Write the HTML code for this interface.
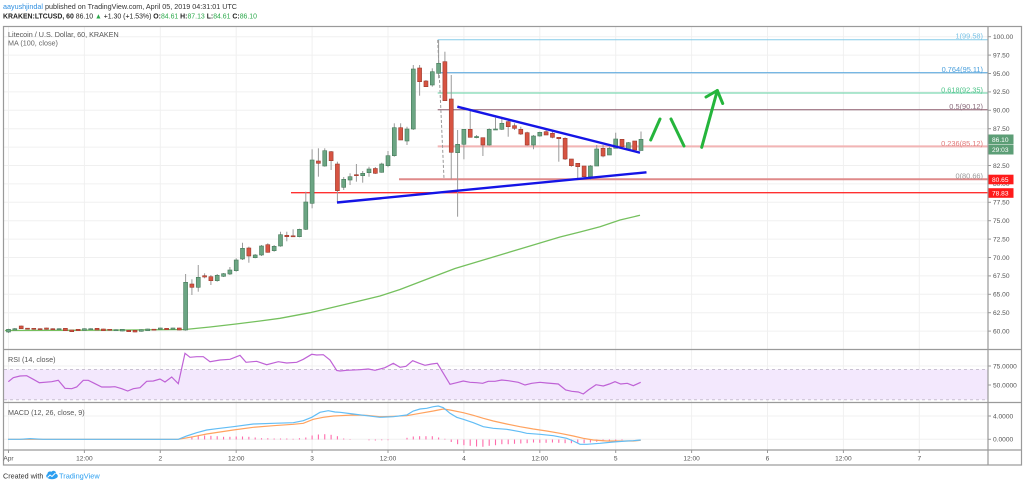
<!DOCTYPE html>
<html><head><meta charset="utf-8"><style>
html,body{margin:0;padding:0;background:#fff;width:1024px;height:486px;overflow:hidden}
svg{display:block;font-family:"Liberation Sans",Arial,sans-serif}
.g line{stroke:#f0f0f0;stroke-width:1}
.ax{fill:#555;font-size:6.6px}
.u rect{fill:#6ba583;stroke:#467a5a;stroke-width:.6}
.d rect{fill:#d75442;stroke:#9c3a2d;stroke-width:.6}
.w line{stroke:#9a9a9a;stroke-width:1}
</style></head><body>
<svg width="1024" height="486" viewBox="0 0 1024 486" xmlns="http://www.w3.org/2000/svg">
<!-- header -->
<text x="3" y="8.8" font-size="7.3" fill="#333" textLength="234" lengthAdjust="spacingAndGlyphs"><tspan fill="#2f8fe0">aayushjindal</tspan> published on TradingView.com, April 05, 2019 04:31:01 UTC</text>
<text x="3" y="18.6" font-size="7.3" fill="#222" textLength="254" lengthAdjust="spacingAndGlyphs"><tspan font-weight="bold">KRAKEN:LTCUSD, 60</tspan> 86.10 <tspan fill="#2aa84a">▲</tspan> +1.30 (+1.53%) <tspan font-weight="bold">O:</tspan><tspan fill="#2aa84a">84.61</tspan> <tspan font-weight="bold">H:</tspan><tspan fill="#2aa84a">87.13</tspan> <tspan font-weight="bold">L:</tspan><tspan fill="#2aa84a">84.61</tspan> <tspan font-weight="bold">C:</tspan><tspan fill="#2aa84a">86.10</tspan></text>

<!-- grid verticals -->
<g class="g">
<line x1="8.5" y1="27" x2="8.5" y2="450"/><line x1="84.4" y1="27" x2="84.4" y2="450"/><line x1="160.3" y1="27" x2="160.3" y2="450"/><line x1="236.2" y1="27" x2="236.2" y2="450"/><line x1="312.1" y1="27" x2="312.1" y2="450"/><line x1="388" y1="27" x2="388" y2="450"/><line x1="463.9" y1="27" x2="463.9" y2="450"/><line x1="539.8" y1="27" x2="539.8" y2="450"/><line x1="615.7" y1="27" x2="615.7" y2="450"/><line x1="691.6" y1="27" x2="691.6" y2="450"/><line x1="767.5" y1="27" x2="767.5" y2="450"/><line x1="843.4" y1="27" x2="843.4" y2="450"/><line x1="919.3" y1="27" x2="919.3" y2="450"/>
<line x1="4" y1="36.7" x2="988" y2="36.7"/><line x1="4" y1="55.1" x2="988" y2="55.1"/><line x1="4" y1="73.5" x2="988" y2="73.5"/><line x1="4" y1="91.9" x2="988" y2="91.9"/><line x1="4" y1="110.3" x2="988" y2="110.3"/><line x1="4" y1="128.7" x2="988" y2="128.7"/><line x1="4" y1="147.1" x2="988" y2="147.1"/><line x1="4" y1="165.5" x2="988" y2="165.5"/><line x1="4" y1="183.9" x2="988" y2="183.9"/><line x1="4" y1="202.3" x2="988" y2="202.3"/><line x1="4" y1="220.7" x2="988" y2="220.7"/><line x1="4" y1="239.1" x2="988" y2="239.1"/><line x1="4" y1="257.5" x2="988" y2="257.5"/><line x1="4" y1="275.9" x2="988" y2="275.9"/><line x1="4" y1="294.3" x2="988" y2="294.3"/><line x1="4" y1="312.7" x2="988" y2="312.7"/><line x1="4" y1="331.1" x2="988" y2="331.1"/>
<line x1="4" y1="366" x2="988" y2="366"/><line x1="4" y1="385" x2="988" y2="385"/>
<line x1="4" y1="416" x2="988" y2="416"/><line x1="4" y1="439.3" x2="988" y2="439.3"/>
</g>

<!-- titles -->
<text x="8" y="36.8" font-size="7.2" fill="#555">Litecoin / U.S. Dollar, 60, KRAKEN</text>
<text x="8" y="45.3" font-size="7.2" fill="#666">MA (100, close)</text>

<!-- fib lines -->
<line x1="437.7" y1="39.8" x2="988" y2="39.8" stroke="#86cbe8" stroke-width="1"/>
<line x1="437.7" y1="72.7" x2="988" y2="72.7" stroke="#4a9fdc" stroke-width="1"/>
<line x1="437.7" y1="93" x2="988" y2="93" stroke="#7fd9b4" stroke-width="1.2"/>
<line x1="437.7" y1="109.8" x2="988" y2="109.8" stroke="#8c5a6c" stroke-width="1"/>
<line x1="437.7" y1="146.4" x2="988" y2="146.4" stroke="#f2b5b5" stroke-width="2"/>
<line x1="399" y1="179.3" x2="988" y2="179.3" stroke="#df8a8a" stroke-width="2"/>
<line x1="291" y1="192.7" x2="988" y2="192.7" stroke="#ff3030" stroke-width="1.4"/>
<line x1="437.7" y1="40" x2="444" y2="179" stroke="#999" stroke-width="1" stroke-dasharray="3,2"/>
<g font-size="7.4" text-anchor="end">
<text x="983" y="38.6" fill="#79c2e6">1(99.58)</text>
<text x="983" y="71.8" fill="#4a9fdc">0.764(95.11)</text>
<text x="983" y="92.5" fill="#4fc48a">0.618(92.35)</text>
<text x="983" y="109.2" fill="#8a6c7c">0.5(90.12)</text>
<text x="983" y="145.8" fill="#e07a7a">0.236(85.12)</text>
<text x="983" y="178.5" fill="#999">0(80.66)</text>
</g>

<!-- MA 100 -->
<polyline fill="none" stroke="#75c05e" stroke-width="1.3" points="5,330.5 100,330.2 185,329.5 210,327 236,324 260,321 280,318.3 310,312.7 350,303.3 380,296 400,289.5 430,278 455,268.5 480,261 500,255 530,246 560,237 580,232 600,226.7 620,220 640,215.3"/>

<!-- candles: wicks -->
<g class="w">
<line x1="8.5" y1="328.7" x2="8.5" y2="333"/><line x1="14.8" y1="328" x2="14.8" y2="330.5"/><line x1="21.2" y1="325.5" x2="21.2" y2="329"/><line x1="27.5" y1="328" x2="27.5" y2="329.2"/><line x1="33.8" y1="328" x2="33.8" y2="329.7"/><line x1="40.1" y1="328.3" x2="40.1" y2="330"/><line x1="46.5" y1="327.7" x2="46.5" y2="329.7"/><line x1="52.8" y1="328.3" x2="52.8" y2="329.7"/><line x1="59.1" y1="328.3" x2="59.1" y2="330"/><line x1="65.4" y1="328" x2="65.4" y2="331"/><line x1="71.75" y1="329.7" x2="71.75" y2="332"/><line x1="78.1" y1="329" x2="78.1" y2="331"/><line x1="84.4" y1="328.3" x2="84.4" y2="330.7"/><line x1="90.7" y1="328.3" x2="90.7" y2="329.7"/><line x1="97.05" y1="328" x2="97.05" y2="330.3"/><line x1="103.4" y1="328.7" x2="103.4" y2="331"/><line x1="109.7" y1="329" x2="109.7" y2="330.7"/><line x1="116" y1="329.3" x2="116" y2="331"/><line x1="122.35" y1="329" x2="122.35" y2="331.3"/><line x1="128.7" y1="330" x2="128.7" y2="332"/><line x1="135" y1="330" x2="135" y2="332.3"/><line x1="141.3" y1="329.3" x2="141.3" y2="331.7"/><line x1="147.65" y1="328.7" x2="147.65" y2="331"/><line x1="154" y1="329" x2="154" y2="330"/><line x1="160.3" y1="327.7" x2="160.3" y2="329.7"/><line x1="166.6" y1="328" x2="166.6" y2="330"/><line x1="172.95" y1="327.7" x2="172.95" y2="329.7"/><line x1="179.3" y1="327.7" x2="179.3" y2="330.3"/>
<line x1="185.6" y1="274" x2="185.6" y2="330.7"/><line x1="191.9" y1="279.3" x2="191.9" y2="295"/><line x1="198.25" y1="265" x2="198.25" y2="291.7"/><line x1="204.6" y1="273.3" x2="204.6" y2="278.3"/><line x1="210.9" y1="275" x2="210.9" y2="285"/><line x1="217.2" y1="274" x2="217.2" y2="281.7"/><line x1="223.55" y1="273" x2="223.55" y2="277"/><line x1="229.9" y1="267" x2="229.9" y2="275"/><line x1="236.2" y1="258.3" x2="236.2" y2="271.7"/><line x1="242.5" y1="242.7" x2="242.5" y2="260"/><line x1="248.85" y1="246.7" x2="248.85" y2="262.7"/><line x1="255.2" y1="254" x2="255.2" y2="258.3"/><line x1="261.5" y1="245" x2="261.5" y2="256"/><line x1="267.8" y1="243.3" x2="267.8" y2="252.7"/><line x1="274.15" y1="245" x2="274.15" y2="251.7"/><line x1="280.5" y1="231.7" x2="280.5" y2="246.7"/><line x1="286.8" y1="231.7" x2="286.8" y2="241.3"/><line x1="293.1" y1="229.3" x2="293.1" y2="236.7"/><line x1="299.45" y1="228.7" x2="299.45" y2="237.3"/><line x1="305.8" y1="191.7" x2="305.8" y2="230"/><line x1="312.1" y1="149.3" x2="312.1" y2="208.3"/><line x1="318.4" y1="148.3" x2="318.4" y2="176.7"/><line x1="324.75" y1="148.3" x2="324.75" y2="166.7"/><line x1="331.1" y1="151" x2="331.1" y2="170"/><line x1="337.4" y1="161.7" x2="337.4" y2="202.5"/><line x1="343.7" y1="177" x2="343.7" y2="190"/><line x1="350.05" y1="173.3" x2="350.05" y2="185"/><line x1="356.4" y1="164" x2="356.4" y2="181.7"/><line x1="362.7" y1="171" x2="362.7" y2="182.7"/><line x1="369" y1="166.7" x2="369" y2="176.7"/><line x1="375.35" y1="167" x2="375.35" y2="174"/><line x1="381.7" y1="162.7" x2="381.7" y2="172.7"/><line x1="388" y1="151" x2="388" y2="167.3"/><line x1="394.3" y1="123.3" x2="394.3" y2="156.7"/><line x1="400.65" y1="123.3" x2="400.65" y2="140"/><line x1="407" y1="126.7" x2="407" y2="145"/><line x1="413.3" y1="65" x2="413.3" y2="130"/><line x1="419.6" y1="65" x2="419.6" y2="95.7"/><line x1="425.95" y1="80" x2="425.95" y2="86.7"/><line x1="432.3" y1="68.3" x2="432.3" y2="86.7"/><line x1="438.6" y1="40" x2="438.6" y2="78.3"/><line x1="444.9" y1="51.7" x2="444.9" y2="101"/><line x1="451.25" y1="75" x2="451.25" y2="179.3"/><line x1="457.6" y1="130" x2="457.6" y2="216.7"/><line x1="463.9" y1="129" x2="463.9" y2="159.3"/><line x1="470.2" y1="110.7" x2="470.2" y2="137.5"/><line x1="476.55" y1="135" x2="476.55" y2="138.3"/><line x1="482.9" y1="137.7" x2="482.9" y2="156"/><line x1="489.2" y1="128.3" x2="489.2" y2="145.7"/><line x1="495.5" y1="117.7" x2="495.5" y2="130"/><line x1="501.85" y1="119" x2="501.85" y2="130"/><line x1="508.2" y1="119.3" x2="508.2" y2="136.7"/><line x1="514.5" y1="123.3" x2="514.5" y2="130"/><line x1="520.8" y1="126.7" x2="520.8" y2="135"/><line x1="527.15" y1="131.7" x2="527.15" y2="145.7"/><line x1="533.5" y1="135" x2="533.5" y2="149.3"/><line x1="539.8" y1="131.7" x2="539.8" y2="136.7"/><line x1="546.1" y1="130" x2="546.1" y2="135"/><line x1="552.45" y1="130" x2="552.45" y2="138.3"/><line x1="558.8" y1="137.3" x2="558.8" y2="161.7"/><line x1="565.1" y1="137.3" x2="565.1" y2="160"/><line x1="571.4" y1="159" x2="571.4" y2="166.7"/><line x1="577.75" y1="163.3" x2="577.75" y2="179"/><line x1="584.1" y1="166" x2="584.1" y2="178.3"/><line x1="590.4" y1="165" x2="590.4" y2="180"/><line x1="596.7" y1="145" x2="596.7" y2="166"/><line x1="603.05" y1="145" x2="603.05" y2="157.3"/><line x1="609.4" y1="146.7" x2="609.4" y2="155"/><line x1="615.7" y1="132.7" x2="615.7" y2="148.3"/><line x1="622" y1="139.3" x2="622" y2="147"/><line x1="628.35" y1="142" x2="628.35" y2="149.3"/><line x1="634.7" y1="141" x2="634.7" y2="150.3"/><line x1="641" y1="131.5" x2="641" y2="150.5"/>
</g>
<!-- up bodies -->
<g class="u">
<rect x="6.5" y="329.3" width="4" height="2.7"/><rect x="12.8" y="328.7" width="4" height="1.3"/><rect x="57.1" y="328.7" width="4" height="1"/><rect x="82.4" y="328.7" width="4" height="1.6"/><rect x="88.7" y="328.7" width="4" height="1"/><rect x="114" y="329.7" width="4" height="1"/><rect x="120.35" y="329.3" width="4" height="1.7"/><rect x="139.3" y="329.7" width="4" height="1.6"/><rect x="145.65" y="329" width="4" height="1.7"/><rect x="158.3" y="328" width="4" height="1.3"/><rect x="170.95" y="328" width="4" height="1.3"/>
<rect x="183.6" y="282.3" width="4" height="47.7"/><rect x="196.25" y="277.3" width="4" height="10"/><rect x="215.2" y="275.3" width="4" height="5.4"/><rect x="221.55" y="273.7" width="4" height="2.6"/><rect x="227.9" y="270" width="4" height="4"/><rect x="234.2" y="260" width="4" height="10.7"/><rect x="240.5" y="248.3" width="4" height="10.7"/><rect x="253.2" y="255" width="4" height="2.7"/><rect x="259.5" y="246" width="4" height="9"/><rect x="272.15" y="246.3" width="4" height="4.4"/><rect x="278.5" y="234.7" width="4" height="11.3"/><rect x="297.45" y="229.3" width="4" height="7.4"/><rect x="303.8" y="202" width="4" height="27.3"/><rect x="310.1" y="160" width="4" height="43.3"/><rect x="322.75" y="150.7" width="4" height="15.3"/><rect x="341.7" y="179.3" width="4" height="8"/><rect x="348.05" y="176.7" width="4" height="3.3"/><rect x="360.7" y="173.3" width="4" height="2.4"/><rect x="367" y="169" width="4" height="3.7"/><rect x="379.7" y="164" width="4" height="8.3"/><rect x="386" y="155.7" width="4" height="10"/><rect x="392.3" y="127.7" width="4" height="28"/><rect x="405" y="129" width="4" height="12"/><rect x="411.3" y="69" width="4" height="60"/><rect x="430.3" y="71.7" width="4" height="13.3"/><rect x="436.6" y="63.3" width="4" height="10"/><rect x="455.6" y="144.3" width="4" height="8.4"/><rect x="461.9" y="129.3" width="4" height="15"/><rect x="474.55" y="136.5" width="4" height="1.2"/><rect x="487.2" y="129.3" width="4" height="15.7"/><rect x="493.5" y="129" width="4" height="1"/><rect x="499.85" y="123.3" width="4" height="6"/><rect x="531.5" y="136" width="4" height="9"/><rect x="537.8" y="132.3" width="4" height="3.7"/><rect x="588.4" y="166" width="4" height="10.7"/><rect x="594.7" y="149" width="4" height="17"/><rect x="607.4" y="148.3" width="4" height="6.7"/><rect x="613.7" y="139" width="4" height="9.3"/><rect x="626.35" y="142.7" width="4" height="6.6"/><rect x="639" y="139.3" width="4" height="11.2"/>
</g>
<!-- down bodies -->
<g class="d">
<rect x="19.2" y="326" width="4" height="2.7"/><rect x="25.5" y="328.2" width="4" height="1"/><rect x="31.8" y="328.3" width="4" height="1"/><rect x="38.1" y="328.7" width="4" height="1"/><rect x="44.5" y="328" width="4" height="1.3"/><rect x="50.8" y="328.7" width="4" height="1"/><rect x="63.4" y="328.3" width="4" height="2.4"/><rect x="69.75" y="330" width="4" height="1.7"/><rect x="76.1" y="329.3" width="4" height="1.4"/><rect x="95.05" y="328.3" width="4" height="1.7"/><rect x="101.4" y="329" width="4" height="1.7"/><rect x="107.7" y="329.3" width="4" height="1"/><rect x="126.7" y="330.3" width="4" height="1.4"/><rect x="133" y="330.3" width="4" height="1.7"/><rect x="152" y="329.2" width="4" height="1"/><rect x="164.6" y="328.3" width="4" height="1.4"/><rect x="177.3" y="328" width="4" height="2"/>
<rect x="189.9" y="284" width="4" height="3.3"/><rect x="202.6" y="275.7" width="4" height="1.3"/><rect x="208.9" y="276.7" width="4" height="4"/><rect x="246.85" y="248" width="4" height="8"/><rect x="265.8" y="244.7" width="4" height="7.6"/><rect x="284.8" y="235.3" width="4" height="1.4"/><rect x="291.1" y="235.8" width="4" height="1"/><rect x="316.4" y="161" width="4" height="2.3"/><rect x="329.1" y="151.7" width="4" height="9"/><rect x="335.4" y="164" width="4" height="26.7"/><rect x="354.4" y="174.7" width="4" height="1"/><rect x="373.35" y="168.5" width="4" height="4.8"/><rect x="398.65" y="127.7" width="4" height="12.3"/><rect x="417.6" y="68" width="4" height="13.7"/><rect x="423.95" y="81" width="4" height="5.7"/><rect x="442.9" y="61.7" width="4" height="39"/><rect x="449.25" y="99" width="4" height="53.3"/><rect x="468.2" y="129.3" width="4" height="8"/><rect x="480.9" y="137.7" width="4" height="7.3"/><rect x="506.2" y="121.7" width="4" height="5"/><rect x="512.5" y="125.7" width="4" height="2.6"/><rect x="518.8" y="129.3" width="4" height="4.7"/><rect x="525.15" y="132.7" width="4" height="12.3"/><rect x="544.1" y="131.7" width="4" height="3.3"/><rect x="550.45" y="133.3" width="4" height="4"/><rect x="556.8" y="137.3" width="4" height="1.4"/><rect x="563.1" y="138.3" width="4" height="20.7"/><rect x="569.4" y="159" width="4" height="6.7"/><rect x="575.75" y="163.3" width="4" height="3.4"/><rect x="582.1" y="166" width="4" height="10.7"/><rect x="601.05" y="148.3" width="4" height="7.7"/><rect x="620" y="139.3" width="4" height="7.4"/><rect x="632.7" y="141" width="4" height="9"/>
</g>

<!-- trend lines -->
<line x1="337" y1="202.5" x2="646.5" y2="172.3" stroke="#1414e6" stroke-width="2.4"/>
<line x1="457.3" y1="106.7" x2="640" y2="152.7" stroke="#1414e6" stroke-width="2.4"/>
<!-- green arrows -->
<g stroke="#25b53c" stroke-width="3" fill="none" stroke-linecap="round" stroke-linejoin="round">
<line x1="650.7" y1="140" x2="660" y2="119"/>
<line x1="671" y1="119" x2="684" y2="146"/>
<line x1="701.7" y1="147.3" x2="717.3" y2="90.5"/>
<polyline points="706,97 717.3,90.5 722.7,103.5"/>
</g>

<!-- RSI pane -->
<rect x="4" y="369.5" width="984" height="30.2" fill="#f3e8fd"/>
<line x1="4" y1="369.5" x2="988" y2="369.5" stroke="#c9c0d2" stroke-width="1" stroke-dasharray="3,3"/>
<line x1="4" y1="399.7" x2="988" y2="399.7" stroke="#c9c0d2" stroke-width="1" stroke-dasharray="3,3"/>
<text x="8" y="362" font-size="7.2" fill="#555">RSI (14, close)</text>
<polyline fill="none" stroke="#bf62d6" stroke-width="1.2" points="8.3,381.7 13.3,377.7 20,376 26.7,375.7 33.3,379.3 39.3,382.7 51.7,381.7 58.3,380.3 65,388.3 71.7,388.7 76.7,387 83.3,380.3 88.3,380.3 95,383.7 101.7,387 110,387 115,386.7 121.7,388.7 127.7,391 133.3,388.7 140,387.7 146.7,381.3 153.3,381 160,379 165,382 171.7,377 178.3,383.7 185,353.3 190,357.3 196.7,356.7 203.3,356.7 210,361.7 220,360 230,359.3 240,355.3 246,362.3 256.7,361.3 266.7,364.7 278.3,361.7 286.7,363 296.7,362.3 303.3,359.3 311.7,354.3 316.7,355 323.3,354.7 330,360 336.7,370.5 340,371 346.7,370.3 360,369.7 368.3,369 375,370.3 385,367.7 393.3,363.3 400,367.3 406,366.3 412.7,360.7 419.3,363.3 425,365.3 431.7,364 437.3,363.3 450,384.3 456.7,382.7 463.3,381 470,382.3 476.7,382.7 482.7,383.3 488.3,381.3 495,381.3 501.7,380 508.3,380.7 518.3,382.3 525,385 531.7,383.3 540,382.3 546.7,383 558.3,384 565.7,390 571.7,391.3 578.3,392 583.3,394 588.3,390 596,384.7 603.3,386 609.3,384 615,381.7 620.7,384 627.3,383.3 633.3,385.7 640.7,382.3"/>

<!-- MACD pane -->
<text x="8" y="415" font-size="7.2" fill="#555">MACD (12, 26, close, 9)</text>
<g stroke="#ff6aab" stroke-width="1.1">
<line x1="191.9" y1="439.5" x2="191.9" y2="437.5"/><line x1="198.25" y1="439.5" x2="198.25" y2="436.2"/><line x1="204.6" y1="439.5" x2="204.6" y2="435.5"/><line x1="210.9" y1="439.5" x2="210.9" y2="435.8"/><line x1="217.2" y1="439.5" x2="217.2" y2="436.2"/><line x1="223.55" y1="439.5" x2="223.55" y2="436.8"/><line x1="229.9" y1="439.5" x2="229.9" y2="436.8"/><line x1="236.2" y1="439.5" x2="236.2" y2="436.5"/><line x1="242.5" y1="439.5" x2="242.5" y2="436.5"/><line x1="248.85" y1="439.5" x2="248.85" y2="436.8"/><line x1="255.2" y1="439.5" x2="255.2" y2="437.5"/><line x1="261.5" y1="439.5" x2="261.5" y2="438.2"/><line x1="267.8" y1="439.5" x2="267.8" y2="438.2"/><line x1="274.15" y1="439.5" x2="274.15" y2="438.5"/><line x1="280.5" y1="439.5" x2="280.5" y2="438.5"/><line x1="286.8" y1="439.5" x2="286.8" y2="438.5"/><line x1="293.1" y1="439.5" x2="293.1" y2="438.8"/><line x1="299.45" y1="439.5" x2="299.45" y2="438.2"/><line x1="305.8" y1="439.5" x2="305.8" y2="437.5"/><line x1="312.1" y1="439.5" x2="312.1" y2="435.5"/><line x1="318.4" y1="439.5" x2="318.4" y2="434.5"/><line x1="324.75" y1="439.5" x2="324.75" y2="434.2"/><line x1="331.1" y1="439.5" x2="331.1" y2="434.8"/><line x1="337.4" y1="439.5" x2="337.4" y2="436.2"/><line x1="343.7" y1="439.5" x2="343.7" y2="438.5"/><line x1="350.05" y1="439.5" x2="350.05" y2="439"/><line x1="369" y1="439.5" x2="369" y2="440.3"/><line x1="375.35" y1="439.5" x2="375.35" y2="440.5"/><line x1="381.7" y1="439.5" x2="381.7" y2="440.3"/><line x1="388" y1="439.5" x2="388" y2="440.2"/><line x1="407" y1="439.5" x2="407" y2="437.8"/><line x1="413.3" y1="439.5" x2="413.3" y2="436.5"/><line x1="419.6" y1="439.5" x2="419.6" y2="436.2"/><line x1="425.95" y1="439.5" x2="425.95" y2="436.2"/><line x1="432.3" y1="439.5" x2="432.3" y2="436.2"/><line x1="438.6" y1="439.5" x2="438.6" y2="437.5"/><line x1="444.9" y1="439.5" x2="444.9" y2="438.8"/><line x1="451.25" y1="439.5" x2="451.25" y2="442"/><line x1="457.6" y1="439.5" x2="457.6" y2="444.2"/><line x1="463.9" y1="439.5" x2="463.9" y2="445.2"/><line x1="470.2" y1="439.5" x2="470.2" y2="445.8"/><line x1="476.55" y1="439.5" x2="476.55" y2="446.5"/><line x1="482.9" y1="439.5" x2="482.9" y2="446.8"/><line x1="489.2" y1="439.5" x2="489.2" y2="445.8"/><line x1="495.5" y1="439.5" x2="495.5" y2="445.2"/><line x1="501.85" y1="439.5" x2="501.85" y2="444.2"/><line x1="508.2" y1="439.5" x2="508.2" y2="444.2"/><line x1="514.5" y1="439.5" x2="514.5" y2="443.8"/><line x1="520.8" y1="439.5" x2="520.8" y2="443.5"/><line x1="527.15" y1="439.5" x2="527.15" y2="443.2"/><line x1="533.5" y1="439.5" x2="533.5" y2="442.5"/><line x1="539.8" y1="439.5" x2="539.8" y2="442.8"/><line x1="546.1" y1="439.5" x2="546.1" y2="442.8"/><line x1="552.45" y1="439.5" x2="552.45" y2="442.5"/><line x1="558.8" y1="439.5" x2="558.8" y2="442.8"/><line x1="565.1" y1="439.5" x2="565.1" y2="443.2"/><line x1="571.4" y1="439.5" x2="571.4" y2="443.2"/><line x1="577.75" y1="439.5" x2="577.75" y2="443.5"/><line x1="584.1" y1="439.5" x2="584.1" y2="443.2"/><line x1="590.4" y1="439.5" x2="590.4" y2="442.5"/><line x1="596.7" y1="439.5" x2="596.7" y2="441.8"/><line x1="603.05" y1="439.5" x2="603.05" y2="441.2"/><line x1="609.4" y1="439.5" x2="609.4" y2="440.8"/><line x1="615.7" y1="439.5" x2="615.7" y2="440.5"/><line x1="622" y1="439.5" x2="622" y2="440.2"/>
</g>
<polyline fill="none" stroke="#ffa25e" stroke-width="1.2" points="8,439.3 178.3,439.3 193.3,436.7 206.7,434 233.3,430 253.3,427.3 273.3,425.7 293.3,424.3 303.3,423.3 313.3,419.3 323.3,417.3 333.3,416 340,415.7 353.3,415 366.7,415.3 380,416.7 393.3,416.3 406.7,415.7 420,413.3 433.3,411 443.3,409 450,410 463.3,412.7 473.3,415.3 483.3,418.3 493.3,421 506.7,424 520,426.7 533.3,429 546.7,431 560,433.3 573.3,436 583.3,438.3 593.3,440 606.7,441 620,441 633.3,441 640.7,440.3"/>
<polyline fill="none" stroke="#62bdf5" stroke-width="1.2" points="8,439.3 20,439.3 30,438.6 43,439.3 178.3,439.3 186.7,436 196.7,432.7 206.7,430 216.7,428.7 233.3,426.7 253.3,424 273.3,423.3 293.3,422.7 303.3,420.7 311.7,417.3 320,412.3 328.3,410.7 335,412 340,412.3 353.3,414 366.7,415.7 380,417.3 393.3,416.7 406.7,415 413.3,411 420,409 426.7,408.3 433.3,406.7 438.3,406 443.3,407.7 450,413.3 456.7,417.3 463.3,419.3 473.3,422.7 483.3,426.7 493.3,428.3 506.7,429.3 520,431.7 526.7,433.3 540,434.3 553.3,435.7 566.7,438.3 573.3,441 580,444.3 586.7,444.3 600,443.3 613.3,442 626.7,441 633.3,440.7 640.7,440"/>

<!-- frame & separators -->
<g stroke="#9a9a9a" stroke-width="1.2" fill="none">
<rect x="3.5" y="26.5" width="1018" height="438.5"/>
<line x1="3.5" y1="349.5" x2="1021.5" y2="349.5"/>
<line x1="3.5" y1="402.5" x2="1021.5" y2="402.5"/>
<line x1="3.5" y1="450" x2="1021.5" y2="450"/>
<line x1="988" y1="26.5" x2="988" y2="465"/>
</g>

<!-- right axis ticks & labels -->
<g stroke="#999" stroke-width="1">
<line x1="988" y1="36.7" x2="991" y2="36.7"/><line x1="988" y1="55.1" x2="991" y2="55.1"/><line x1="988" y1="73.5" x2="991" y2="73.5"/><line x1="988" y1="91.9" x2="991" y2="91.9"/><line x1="988" y1="110.3" x2="991" y2="110.3"/><line x1="988" y1="128.7" x2="991" y2="128.7"/><line x1="988" y1="165.5" x2="991" y2="165.5"/><line x1="988" y1="202.3" x2="991" y2="202.3"/><line x1="988" y1="220.7" x2="991" y2="220.7"/><line x1="988" y1="239.1" x2="991" y2="239.1"/><line x1="988" y1="257.5" x2="991" y2="257.5"/><line x1="988" y1="275.9" x2="991" y2="275.9"/><line x1="988" y1="294.3" x2="991" y2="294.3"/><line x1="988" y1="312.7" x2="991" y2="312.7"/><line x1="988" y1="331.1" x2="991" y2="331.1"/><line x1="988" y1="366" x2="991" y2="366"/><line x1="988" y1="385" x2="991" y2="385"/><line x1="988" y1="416" x2="991" y2="416"/><line x1="988" y1="439.3" x2="991" y2="439.3"/>
<line x1="8.5" y1="450" x2="8.5" y2="453"/><line x1="84.4" y1="450" x2="84.4" y2="453"/><line x1="160.3" y1="450" x2="160.3" y2="453"/><line x1="236.2" y1="450" x2="236.2" y2="453"/><line x1="312.1" y1="450" x2="312.1" y2="453"/><line x1="388" y1="450" x2="388" y2="453"/><line x1="463.9" y1="450" x2="463.9" y2="453"/><line x1="539.8" y1="450" x2="539.8" y2="453"/><line x1="615.7" y1="450" x2="615.7" y2="453"/><line x1="691.6" y1="450" x2="691.6" y2="453"/><line x1="767.5" y1="450" x2="767.5" y2="453"/><line x1="843.4" y1="450" x2="843.4" y2="453"/><line x1="919.3" y1="450" x2="919.3" y2="453"/>
</g>
<g class="ax">
<text x="993" y="39">100.00</text><text x="993" y="57.4">97.50</text><text x="993" y="75.8">95.00</text><text x="993" y="94.2">92.50</text><text x="993" y="112.6">90.00</text><text x="993" y="131">87.50</text><text x="993" y="149.4">85.00</text><text x="993" y="167.8">82.50</text><text x="993" y="186.2">80.00</text><text x="993" y="204.6">77.50</text><text x="993" y="223">75.00</text><text x="993" y="241.4">72.50</text><text x="993" y="259.8">70.00</text><text x="993" y="278.2">67.50</text><text x="993" y="296.6">65.00</text><text x="993" y="315">62.50</text><text x="993" y="333.4">60.00</text>
<text x="993" y="368.3">75.0000</text><text x="993" y="387.3">50.0000</text>
<text x="993" y="418.3">4.0000</text><text x="993" y="441.6">0.0000</text>
</g>
<!-- colored price boxes -->
<rect x="988.5" y="134.5" width="25" height="10" fill="#5c9e76"/>
<rect x="988.5" y="145" width="25" height="9.5" fill="#5c9e76"/>
<rect x="988.5" y="174.7" width="25" height="9.6" fill="#ff1a1a"/>
<rect x="988.5" y="188.2" width="25" height="9.6" fill="#ff1a1a"/>
<g font-size="6.6" fill="#fff">
<text x="992" y="141.8">86.10</text>
<text x="992" y="152">29:03</text>
<text x="992" y="181.8">80.65</text>
<text x="992" y="195.3">78.83</text>
</g>

<!-- time axis labels -->
<g class="ax" text-anchor="middle" font-size="6.8">
<text x="8.5" y="460.5">Apr</text><text x="84.4" y="460.5">12:00</text><text x="160.3" y="460.5">2</text><text x="236.2" y="460.5">12:00</text><text x="312.1" y="460.5">3</text><text x="388" y="460.5">12:00</text><text x="463.9" y="460.5">4</text><text x="539.8" y="460.5">12:00</text><text x="615.7" y="460.5">5</text><text x="691.6" y="460.5">12:00</text><text x="767.5" y="460.5">6</text><text x="843.4" y="460.5">12:00</text><text x="919.3" y="460.5">7</text>
</g>

<!-- footer -->
<text x="3" y="478.6" font-size="7.2" fill="#333">Created with</text>
<g transform="translate(46,471)">
<ellipse cx="6" cy="5" rx="5.8" ry="3.2" fill="#2c9ff0"/>
<circle cx="4" cy="3" r="2.6" fill="#2c9ff0"/>
<circle cx="7.5" cy="2.4" r="2.6" fill="#2c9ff0"/>
<polyline points="1.5,6.5 4,4 6,5.5 9.5,2" fill="none" stroke="#fff" stroke-width="0.9"/>
</g>
<text x="59" y="478.6" font-size="7.4" fill="#2c9ff0">TradingView</text>
</svg>
</body></html>
